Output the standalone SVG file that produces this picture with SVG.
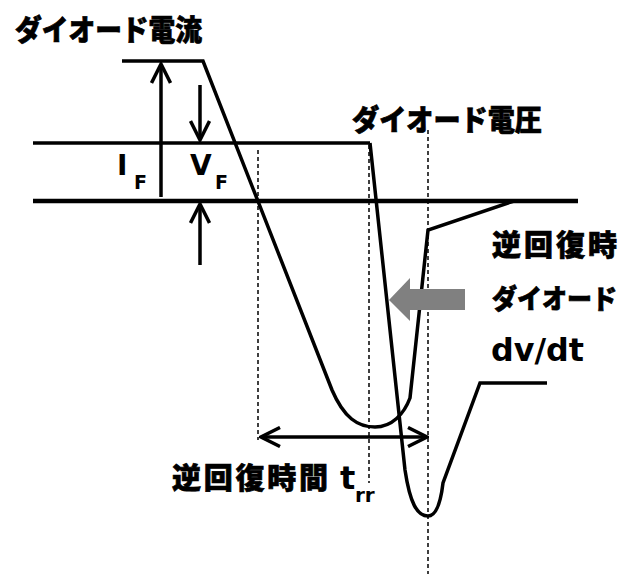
<svg xmlns="http://www.w3.org/2000/svg" width="632" height="574" viewBox="0 0 632 574">
<style>
.bg{fill:#ffffff}
.w{fill:none;stroke:#000;stroke-width:3.5;stroke-linejoin:miter}
.ax{fill:none;stroke:#000;stroke-width:4.5}
.dash{fill:none;stroke:#000;stroke-width:1.5;stroke-dasharray:4 3}
.arr{fill:none;stroke:#000;stroke-width:3.5}
.jp{font-family:"Noto Sans CJK JP","Noto Sans",sans-serif;font-weight:900;font-size:29px;fill:#000;stroke:#000;stroke-width:0.7}
.jps{font-size:27px}
.lt{font-family:"DejaVu Sans","Noto Sans",sans-serif;font-weight:700;fill:#000}
</style>
<defs>
<marker id="chev" viewBox="-22 -11 24 22" refX="0" refY="0" markerWidth="24" markerHeight="22" markerUnits="userSpaceOnUse" orient="auto-start-reverse">
<path d="M-19,-9.5 L0,0 L-19,9.5" fill="none" stroke="#000" stroke-width="3.5"/>
</marker>
</defs>
<rect class="bg" x="0" y="0" width="632" height="574"/>

<g id="axes">
<line class="w" x1="33" y1="143" x2="370" y2="143"/>
<line class="ax" x1="33" y1="201" x2="578" y2="201"/>
</g>

<g id="guides">
<line class="dash" x1="258" y1="150" x2="258" y2="440"/>
<line class="dash" x1="369" y1="145" x2="369" y2="483"/>
<line class="dash" x1="428" y1="130" x2="428" y2="574"/>
</g>

<g id="current-waveform">
<path class="w" d="M122,61 L203,61 L332,390 C344,418 358,427 375,427 C392,427 404,414 410,398 L428,230 L514,201"/>
</g>

<g id="voltage-waveform">
<path class="w" d="M370,143 L405,470 C410,503 417,516 428,516 C437,516 441,500 443,483 L480,383 L547,383"/>
</g>

<g id="connectors">
<line class="arr" x1="161" y1="197" x2="161" y2="64" marker-end="url(#chev)"/>
<line class="arr" x1="200" y1="85" x2="200" y2="140" marker-end="url(#chev)"/>
<line class="arr" x1="200" y1="265" x2="200" y2="204" marker-end="url(#chev)"/>
<line class="arr" x1="261" y1="437" x2="427" y2="437" marker-start="url(#chev)" marker-end="url(#chev)"/>
<polygon points="389,300 410,278 410,289 465,289 465,310 410,310 410,321" fill="#808080"/>
</g>

<g id="label-current">
<text class="jp" x="15" y="41" textLength="187" lengthAdjust="spacingAndGlyphs">ダイオード電流</text>
</g>
<g id="label-voltage">
<text class="jp" x="352" y="131" textLength="190" lengthAdjust="spacingAndGlyphs">ダイオード電圧</text>
</g>
<g id="label-IF">
<text class="lt" x="117" y="175" font-size="28">I</text>
<text class="lt" x="134" y="189" font-size="19">F</text>
</g>
<g id="label-VF">
<text class="lt" x="190" y="175" font-size="28">V</text>
<text class="lt" x="215" y="189" font-size="19">F</text>
</g>
<g id="label-dvdt">
<text class="jp" x="492" y="256" textLength="125" lengthAdjust="spacing">逆回復時</text>
<text class="jp jps" x="492" y="309" textLength="125" lengthAdjust="spacingAndGlyphs">ダイオード</text>
<text class="lt" x="491" y="361" font-size="32" textLength="93" lengthAdjust="spacingAndGlyphs">dv/dt</text>
</g>
<g id="label-trr">
<text class="jp" x="172" y="489" textLength="156" lengthAdjust="spacing">逆回復時間</text>
<text class="lt" x="340" y="489" font-size="32">t</text>
<text class="lt" x="355" y="502" font-size="20">rr</text>
</g>
</svg>
